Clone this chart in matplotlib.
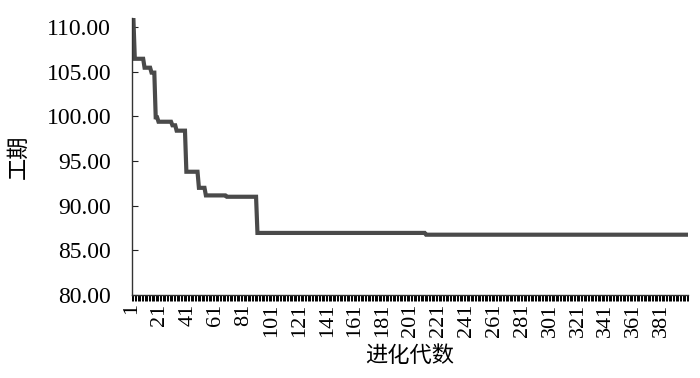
import numpy as np
import matplotlib.pyplot as plt
from matplotlib.ticker import FixedLocator, MultipleLocator

# generation where the best makespan changes, and the new value from there on
change_gen = [1, 3, 10, 15, 18, 20, 30, 33, 40, 49, 54, 69, 91, 212]
change_val = [110.9, 106.45, 105.45, 104.9, 99.9, 99.4, 99.0, 98.4,
              93.8, 92.0, 91.15, 91.0, 86.95, 86.75]
n_gen = 400

yticks = [80, 85, 90, 95, 100, 105, 110]
xtick_gens = list(range(1, n_gen, 20))

# expand the change points into one value per generation
gens = np.arange(1, n_gen + 1)
idx = np.searchsorted(change_gen, gens, side='right') - 1
best = np.array(change_val)[idx]

plt.rcParams['font.family'] = ['Liberation Serif', 'DejaVu Serif']

fig = plt.figure(figsize=(7, 3.78), dpi=100)
ax = fig.add_axes([0.1886, 0.2196, 0.7944, 0.7324])

ax.plot(gens, best, color='#4a4a4a', lw=3.0, solid_joinstyle='miter')

ax.set_xlim(1, n_gen)
ax.set_ylim(80, 111)
ax.set_yticks(yticks)
ax.set_yticklabels(['%.2f' % v for v in yticks], fontsize=17)
ax.xaxis.set_major_locator(FixedLocator(xtick_gens))
ax.xaxis.set_minor_locator(MultipleLocator(1))
ax.set_xticklabels([str(g) for g in xtick_gens], rotation=90, fontsize=16)

ax.tick_params(axis='y', direction='in', length=4, width=0.8, pad=15, colors='#222222')
ax.tick_params(axis='y', labelcolor='black')
ax.tick_params(axis='x', which='both', direction='out', length=4, width=0.7, pad=2)

for s in ['top', 'right']:
    ax.spines[s].set_visible(False)
for s in ['left', 'bottom']:
    ax.spines[s].set_color('#333333')
    ax.spines[s].set_linewidth(1.0)

cjk = ['Noto Sans CJK SC', 'DejaVu Sans']
ax.set_xlabel('进化代数', family=cjk, fontsize=16, labelpad=5)
ax.set_ylabel('工期', family=cjk, fontsize=16, labelpad=12)

fig.savefig('out.png', dpi=100)
